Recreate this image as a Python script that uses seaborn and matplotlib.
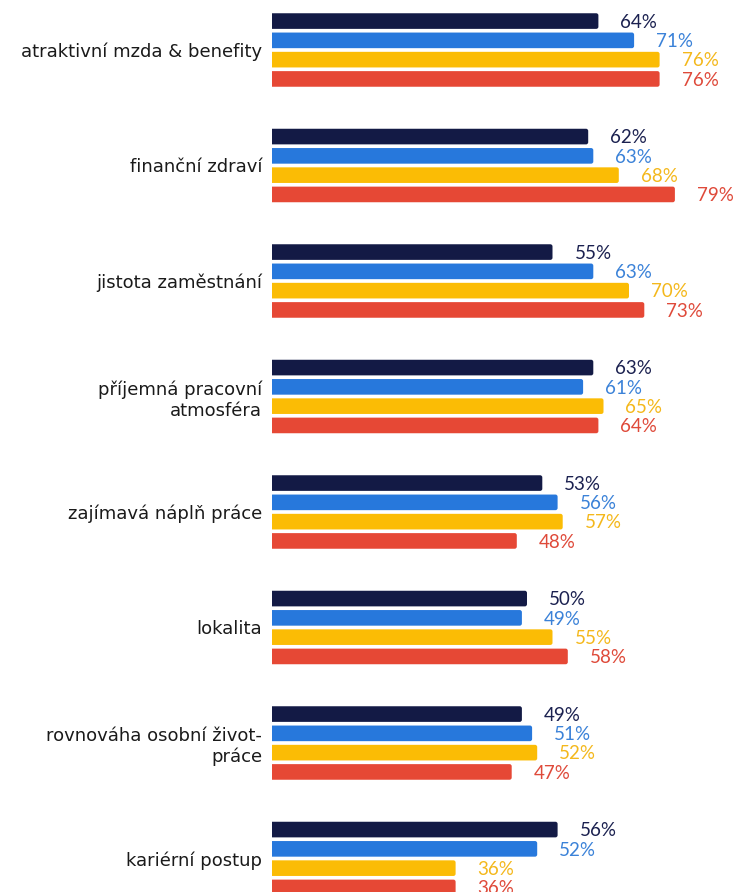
import matplotlib
matplotlib.use("Agg")
import matplotlib.pyplot as plt
from matplotlib.patches import FancyBboxPatch
import numpy as np
import pandas as pd
import seaborn as sns

# Survey factors and the share of respondents in each of four groups
categories = [
    "atraktivní mzda & benefity",
    "finanční zdraví",
    "jistota zaměstnání",
    "příjemná pracovní\natmosféra",
    "zajímavá náplň práce",
    "lokalita",
    "rovnováha osobní život-\npráce",
    "kariérní postup",
]
groups = ["skupina 1", "skupina 2", "skupina 3", "skupina 4"]
values_g1 = [64, 62, 55, 63, 53, 50, 49, 56]
values_g2 = [71, 63, 63, 61, 56, 49, 51, 52]
values_g3 = [76, 68, 70, 65, 57, 55, 52, 36]
values_g4 = [76, 79, 73, 64, 48, 58, 47, 36]

colors = ["#131a45", "#2778dc", "#fbbc05", "#e64835"]
label_colors = ["#1b2150", "#3b82d8", "#f4b81c", "#df4a3a"]

df = pd.DataFrame({
    "kategorie": np.repeat(categories, len(groups)),
    "skupina": groups * len(categories),
    "hodnota": np.ravel(np.column_stack([values_g1, values_g2, values_g3, values_g4])),
})

sns.set_style("white")
plt.rcParams["font.family"] = ["DejaVu Sans"]

W, H = 736, 892
fig = plt.figure(figsize=(W / 100, H / 100), dpi=100)

# axes placed in pixel terms; it runs past the bottom edge of the figure
left_px, right_px = 272, 731
first_center, pitch = 50.0, 115.5
top_px = first_center - 0.5 * pitch
bottom_px = first_center + (len(categories) - 0.5) * pitch
ax = fig.add_axes([left_px / W, 1 - bottom_px / H,
                   (right_px - left_px) / W, (bottom_px - top_px) / H])

sns.barplot(data=df, y="kategorie", x="hodnota", hue="skupina",
            palette=colors, orient="h", width=0.668, gap=0.19,
            legend=False, ax=ax, saturation=1)

xmax = 90
ax.set_xlim(0, xmax)
ax.set_ylim(len(categories) - 0.5, -0.5)

# rounded right ends of the bars; the left ends are clipped square at x = 0
px_per_x = (right_px - left_px) / xmax
px_per_y = pitch
aspect = px_per_x / px_per_y
r = 2.2 / px_per_x
bars = list(ax.patches)
for p in bars:
    x0, y0 = p.get_x(), p.get_y()
    w, h = p.get_width(), p.get_height()
    fc = p.get_facecolor()
    p.remove()
    ax.add_patch(FancyBboxPatch((x0 - 2 * r, y0), w + 2 * r, h,
                                boxstyle=f"round,pad=0,rounding_size={r}",
                                mutation_aspect=aspect, facecolor=fc,
                                edgecolor="none", linewidth=0))

# value labels to the right of every bar
slot = 0.668 / len(groups)
all_vals = [values_g1, values_g2, values_g3, values_g4]
gap = 22 / px_per_x
for gi, vals in enumerate(all_vals):
    for ci, v in enumerate(vals):
        yc = ci - 0.668 / 2 + slot * (gi + 0.5)
        ax.text(v + gap, yc + 0.01, f"{v}%", color=label_colors[gi],
                fontsize=13.5, family=["Lato", "DejaVu Sans"],
                ha="left", va="center", clip_on=False)

ax.set_xlabel("")
ax.set_ylabel("")
ax.set_xticks([])
ax.tick_params(axis="y", length=0, pad=7, labelsize=13, labelcolor="#1a1a1a")
for lbl in ax.get_yticklabels():
    lbl.set_multialignment("right")
for s in ax.spines.values():
    s.set_visible(False)

fig.savefig("out.png", dpi=100)
